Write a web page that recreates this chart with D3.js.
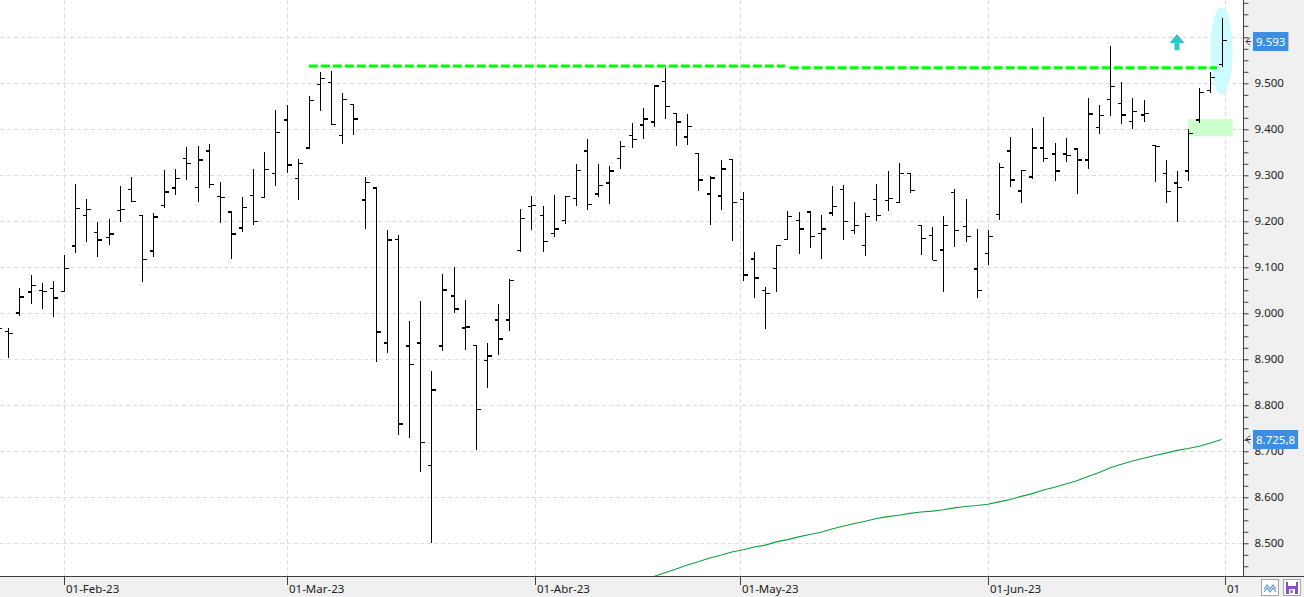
<!DOCTYPE html>
<html><head><meta charset="utf-8">
<script src="https://cdn.jsdelivr.net/npm/d3@7"></script>
<style>
body{margin:0;background:#fff;}
svg{display:block;font-family:"Noto Sans","Open Sans",sans-serif;}
</style>
</head><body>
<svg id="c" width="1304" height="597"></svg>
<script>
// ---------------- DATA ----------------
const dates = [
"2023-01-24","2023-01-25","2023-01-26","2023-01-27","2023-01-30","2023-01-31",
"2023-02-01","2023-02-02","2023-02-03","2023-02-06","2023-02-07","2023-02-08","2023-02-09","2023-02-10",
"2023-02-13","2023-02-14","2023-02-15","2023-02-16","2023-02-17","2023-02-20","2023-02-21","2023-02-22",
"2023-02-23","2023-02-24","2023-02-27","2023-02-28",
"2023-03-01","2023-03-02","2023-03-03","2023-03-06","2023-03-07","2023-03-08","2023-03-09","2023-03-10",
"2023-03-13","2023-03-14","2023-03-15","2023-03-16","2023-03-17","2023-03-20","2023-03-21","2023-03-22",
"2023-03-23","2023-03-24","2023-03-27","2023-03-28","2023-03-29","2023-03-30","2023-03-31",
"2023-04-03","2023-04-04","2023-04-05","2023-04-06","2023-04-11","2023-04-12","2023-04-13","2023-04-14",
"2023-04-17","2023-04-18","2023-04-19","2023-04-20","2023-04-21","2023-04-24","2023-04-25","2023-04-26",
"2023-04-27","2023-04-28",
"2023-05-02","2023-05-03","2023-05-04","2023-05-05","2023-05-08","2023-05-09","2023-05-10","2023-05-11",
"2023-05-12","2023-05-15","2023-05-16","2023-05-17","2023-05-18","2023-05-19","2023-05-22","2023-05-23",
"2023-05-24","2023-05-25","2023-05-26","2023-05-29","2023-05-30","2023-05-31",
"2023-06-01","2023-06-02","2023-06-05","2023-06-06","2023-06-07","2023-06-08","2023-06-09","2023-06-12",
"2023-06-13","2023-06-14","2023-06-15","2023-06-16","2023-06-19","2023-06-20","2023-06-21","2023-06-22",
"2023-06-23","2023-06-26","2023-06-27","2023-06-28","2023-06-29","2023-06-30"];

const openV = [8975,8960,9001,9046,9050,9054,
9048,9146,9213,9176,9165,9224,9269,9213,9135,9234,9272,9337,9274,9353,9254,9220,9185,9256,9252,9304,
9420,9293,9359,9498,9502,9387,9454,9246,9272,8935,9160,8929,8935,8669,8929,9038,8968,8930,8897,8985,8985,9136,9232,
9213,9174,9202,9250,9353,9259,9283,9337,9387,9409,9416,9504,9434,9383,9348,9259,9255,9335,
9248,9118,9050,9098,9161,9202,9220,9174,9218,9269,9180,9148,9248,9245,9241,9304,9191,9169,9138,9262,9189,9096,
9130,9215,9353,9266,9296,9359,9346,9346,9357,9333,9404,9465,9456,9417,9431,9365,9304,9283,9309,9420,9485,9541];

const highV = [8990,8969,9054,9083,9065,9070,
9127,9281,9248,9198,9205,9277,9296,9213,9217,9311,9314,9361,9364,9368,9285,9222,9253,9314,9350,9442,
9453,9335,9472,9524,9527,9480,9456,9296,9272,9181,9170,8983,9027,8874,9085,9101,9029,8930,8935,9020,9074,9227,9255,
9233,9257,9254,9324,9378,9324,9320,9374,9414,9446,9497,9533,9435,9433,9348,9298,9334,9335,
9264,9133,9057,9148,9222,9220,9222,9213,9277,9279,9242,9217,9281,9309,9327,9304,9192,9187,9212,9270,9248,9183,
9181,9327,9383,9311,9403,9427,9370,9381,9357,9468,9453,9581,9503,9468,9464,9365,9333,9309,9400,9489,9524,9642];

const lowV = [8950,8903,8995,9021,9010,8993,
9048,9132,9156,9123,9149,9199,9243,9069,9122,9229,9258,9290,9241,9273,9196,9117,9177,9192,9250,9277,
9306,9247,9359,9440,9409,9369,9388,9184,8895,8914,8736,8729,8656,8501,8919,9001,8921,8703,8838,8910,8962,9134,9182,
9134,9166,9195,9233,9225,9252,9238,9313,9360,9379,9406,9423,9364,9366,9266,9192,9225,9158,
9070,9034,8966,9047,9159,9129,9143,9117,9212,9160,9173,9125,9201,9223,9241,9261,9127,9115,9047,9145,9156,9034,
9106,9203,9275,9240,9293,9330,9287,9328,9260,9314,9389,9428,9411,9400,9415,9285,9239,9198,9287,9413,9478,9535];

const closeV = [8967,8956,9035,9061,9048,9033,
9098,9228,9226,9159,9172,9226,9243,9117,9209,9264,9293,9326,9333,9280,9252,9172,9230,9200,9313,9393,
9322,9326,9463,9511,9411,9465,9422,9285,8959,9159,8759,8889,8719,8833,9051,9009,8970,8791,8907,8944,9071,9206,9234,
9156,9183,9254,9311,9237,9278,9309,9363,9378,9422,9494,9450,9416,9406,9290,9294,9314,9241,
9083,9077,9043,9148,9211,9183,9167,9183,9232,9200,9191,9211,9213,9249,9304,9267,9163,9115,9191,9180,9167,9050,
9167,9317,9290,9311,9359,9337,9309,9343,9333,9433,9430,9493,9431,9439,9435,9363,9265,9274,9391,9480,9513,9593];

// moving average (green), starting at bar index 57
const maStart = 57;
const maV = [8412,8420,8428,8436,8444,8453,8460,8468,8474,8481,8486,8492,8496,8503,8508,8514,8519,8524,8531,8537,
8543,8548,8554,8558,8561,8565,8568,8570,8573,8577,8580,8582,8585,8590,8595,8602,8608,8616,8622,8629,
8636,8645,8654,8664,8672,8679,8685,8691,8696,8702,8706,8711,8718,8725.8];

const monthTickDates  = ["2023-02-01","2023-03-01","2023-04-01","2023-05-01","2023-06-01","2023-07-01"];
const monthTickLabels = ["01-Feb-23","01-Mar-23","01-Abr-23","01-May-23","01-Jun-23","01"];

const yGridValues  = [8500,8600,8700,8800,8900,9000,9100,9200,9300,9400,9500,9600];
// 9.600 is hidden behind the last-price tag in the reference
const yLabelValues = [8500,8600,8700,8800,8900,9000,9100,9200,9300,9400,9500];

// annotations (drawn on the chart by the user)
const resistanceFrom  = [28, 71.2];
const resistanceTo    = [70.8, 109.6];
const resistanceLevel = [9537.5, 9534];
const zoneIdx = [107, 111];     const zoneVal = [9385, 9422];
const ellIdx  = [109, 111];     const ellVal  = [9475, 9666];
const arrowIdx = 106;           const arrowVal = [9572, 9607];

// ---------------- CHART ----------------
const svg = d3.select("#c");
const PR = 1243, PB = 576;
const x = d3.scaleLinear().domain([0.2498, 111.93]).range([0, PR]);
const y = d3.scaleLinear().domain([8427.8, 9681.1]).range([576.5, 0]);
const loc = d3.formatLocale({decimal: ",", thousands: ".", grouping: [3], currency: ["", ""]});
const f0 = loc.format(",.0f"), f1 = loc.format(",.1f");
const parse = d3.utcParse("%Y-%m-%d");
const dts = dates.map(parse);
const DAY = 864e5;

function datePos(ds) {
  const d = parse(ds);
  for (let k = 0; k < dts.length; k++) {
    if (+dts[k] === +d) return k;
    if (dts[k] > d) {
      const a = dts[k-1], b = dts[k];
      return k - 1 + (d - a) / (b - a);
    }
  }
  const last = dts[dts.length - 1];
  let nxt = new Date(+last + DAY);
  while (nxt.getUTCDay() === 0 || nxt.getUTCDay() === 6) nxt = new Date(+nxt + DAY);
  return dts.length - 1 + (d - last) / (nxt - last);
}
const px = v => Math.round(v) + 0.5;

svg.append("defs").append("clipPath").attr("id", "plot")
  .append("rect").attr("x", 0).attr("y", 0).attr("width", PR).attr("height", PB);

// gridlines
const grid = svg.append("g").attr("stroke", "#dcdcdc").attr("stroke-dasharray", "4,3").attr("stroke-width", 1);
grid.selectAll("line.h").data(yGridValues).join("line").attr("class", "h")
  .attr("x1", 0).attr("x2", PR).attr("y1", d => px(y(d) - 0.5)).attr("y2", d => px(y(d) - 0.5));
grid.selectAll("line.v").data(monthTickDates).join("line").attr("class", "v")
  .attr("x1", d => px(x(datePos(d)))).attr("x2", d => px(x(datePos(d))))
  .attr("y1", 0).attr("y2", PB);

const plot = svg.append("g").attr("clip-path", "url(#plot)");

// highlight zone and ellipse
plot.append("rect")
  .attr("x", x(zoneIdx[0])).attr("width", x(zoneIdx[1]) - x(zoneIdx[0]))
  .attr("y", y(zoneVal[1])).attr("height", y(zoneVal[0]) - y(zoneVal[1]))
  .attr("fill", "#ccffcc");
plot.append("ellipse")
  .attr("cx", (x(ellIdx[0]) + x(ellIdx[1])) / 2).attr("cy", (y(ellVal[0]) + y(ellVal[1])) / 2)
  .attr("rx", (x(ellIdx[1]) - x(ellIdx[0])) / 2).attr("ry", (y(ellVal[0]) - y(ellVal[1])) / 2)
  .attr("fill", "#ccfcff");

// moving average
const maData = maV.map((v, i) => [maStart + i, v]);
plot.append("path").datum(maData)
  .attr("d", d3.line().x(d => x(d[0])).y(d => y(d[1])))
  .attr("fill", "none").attr("stroke", "#10a040").attr("stroke-width", 1.1);

// resistance lines
plot.selectAll("line.res").data(resistanceLevel).join("line").attr("class", "res")
  .attr("x1", (d, i) => x(resistanceFrom[i])).attr("x2", (d, i) => x(resistanceTo[i]))
  .attr("y1", d => y(d)).attr("y2", d => y(d))
  .attr("stroke", "#00ff00").attr("stroke-width", 3).attr("stroke-dasharray", "9,3");

// OHLC bars
const bars = plot.append("g").attr("stroke", "#000").attr("shape-rendering", "crispEdges");
const idx = d3.range(dates.length);
bars.selectAll("line.hl").data(idx).join("line").attr("class", "hl")
  .attr("x1", i => px(x(i))).attr("x2", i => px(x(i)))
  .attr("y1", i => y(highV[i])).attr("y2", i => y(lowV[i])).attr("stroke-width", 1.4);
bars.selectAll("line.o").data(idx).join("line").attr("class", "o")
  .attr("x1", i => px(x(i)) - 4).attr("x2", i => px(x(i)))
  .attr("y1", i => y(openV[i])).attr("y2", i => y(openV[i])).attr("stroke-width", 1.4);
bars.selectAll("line.c").data(idx).join("line").attr("class", "c")
  .attr("x1", i => px(x(i))).attr("x2", i => px(x(i)) + 4)
  .attr("y1", i => y(closeV[i])).attr("y2", i => y(closeV[i])).attr("stroke-width", 1.4);

// up arrow
const ax = x(arrowIdx), ayTop = y(arrowVal[1]), ayBot = y(arrowVal[0]);
const ah = (ayBot - ayTop) * 0.55;
svg.append("path")
  .attr("d", `M${ax},${ayTop} L${ax + 7.5},${ayTop + ah} L${ax + 2.5},${ayTop + ah} L${ax + 2.5},${ayBot} L${ax - 2.5},${ayBot} L${ax - 2.5},${ayTop + ah} L${ax - 7.5},${ayTop + ah} Z`)
  .attr("fill", "#33c6c9");

// panels
svg.append("rect").attr("x", PR + 0.5).attr("y", 0).attr("width", 1304 - PR).attr("height", PB).attr("fill", "#f0f0f0");
svg.append("rect").attr("x", 0).attr("y", PB + 0.5).attr("width", 1304).attr("height", 597 - PB).attr("fill", "#f0f0f0");

// right axis
const yAxis = d3.axisRight(y).tickValues(d3.range(8450, 9676, 25)).tickSize(5).tickSizeOuter(0).tickPadding(6)
  .tickFormat(v => yLabelValues.includes(v) ? f0(v) : "");
const gy = svg.append("g").attr("transform", `translate(${PR + 0.5},0)`).call(yAxis);
gy.select(".domain").attr("stroke", "#404040").attr("d", `M0,0V${PB + 0.5}`);
gy.selectAll(".tick line").attr("stroke", "#404040");
gy.selectAll(".tick text").attr("fill", "#222").style("font-size", "11.5px").style("font-family", "'Noto Sans',sans-serif");

// bottom axis
svg.append("line").attr("x1", 0).attr("x2", 1304).attr("y1", PB + 0.5).attr("y2", PB + 0.5).attr("stroke", "#404040");
const gx = svg.append("g");
gx.selectAll("line").data(monthTickDates).join("line")
  .attr("x1", d => px(x(datePos(d)))).attr("x2", d => px(x(datePos(d))))
  .attr("y1", PB + 1).attr("y2", PB + 9).attr("stroke", "#404040");
gx.selectAll("text").data(monthTickDates).join("text")
  .attr("x", d => px(x(datePos(d))) + 1.5).attr("y", 593)
  .attr("fill", "#222").style("font-size", "11.5px")
  .text((d, i) => monthTickLabels[i]);

// price labels
function priceTag(v, txt) {
  const yy = Math.round(y(v));
  const g = svg.append("g");
  g.append("path").attr("d", `M${PR + 7},${yy - 3.5} L${PR + 3},${yy + 0.5} L${PR + 7},${yy + 4.5} M${PR + 3},${yy + 0.5} L${PR + 8},${yy + 0.5}`)
    .attr("fill", "none").attr("stroke", "#333").attr("stroke-width", 1);
  const t = g.append("text").attr("x", PR + 13).attr("y", yy + 4.5).attr("fill", "#fff")
    .style("font-size", "11.5px").text(txt);
  const w = t.node().getComputedTextLength();
  g.insert("rect", "text").attr("x", PR + 10).attr("y", yy - 9).attr("width", w + 6).attr("height", 19).attr("fill", "#3d8ee3");
}
priceTag(closeV[closeV.length - 1], f0(closeV[closeV.length - 1]));
priceTag(maV[maV.length - 1], f1(maV[maV.length - 1]));

// corner buttons
const b1 = svg.append("g");
b1.append("rect").attr("x", 1261.5).attr("y", 579.5).attr("width", 17).attr("height", 16).attr("fill", "#fff").attr("stroke", "#a8a8a8");
b1.append("path").attr("d", "M1264,589 L1267,585 L1270,589 L1273,585 L1276,589 M1264,592 L1267,588 L1270,592 L1273,588 L1276,592")
  .attr("fill", "none").attr("stroke", "#5f9ad6").attr("stroke-width", 1.2);
const b2 = svg.append("g");
b2.append("rect").attr("x", 1283.5).attr("y", 579.5).attr("width", 17).attr("height", 16).attr("fill", "#fff").attr("stroke", "#a8a8a8");
b2.append("rect").attr("x", 1286).attr("y", 582).attr("width", 12).attr("height", 12).attr("fill", "#8a4cc8");
b2.append("rect").attr("x", 1288).attr("y", 582).attr("width", 8).attr("height", 4).attr("fill", "#fff");
b2.append("rect").attr("x", 1289).attr("y", 589).attr("width", 6).attr("height", 5).attr("fill", "#fff");
b2.append("rect").attr("x", 1290.5).attr("y", 590).attr("width", 2).attr("height", 3).attr("fill", "#8a4cc8");
</script>
</body></html>
